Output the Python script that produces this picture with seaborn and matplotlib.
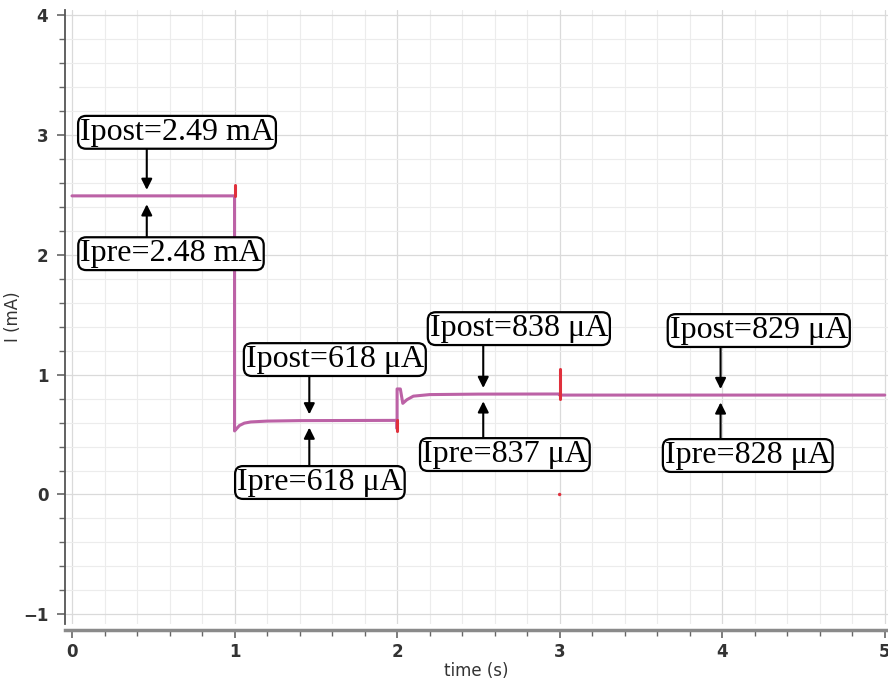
import matplotlib
matplotlib.use("Agg")
import matplotlib.pyplot as plt
from matplotlib.ticker import MultipleLocator
import numpy as np
import pandas as pd
import seaborn as sns

# Simulated current trace (time in s, current in mA)
time_main = [0.0, 1.0, 1.0, 1.01, 1.03, 1.06, 1.10, 1.20, 1.40, 1.70, 2.0,
             2.0, 2.0, 2.02, 2.035, 2.06, 2.10, 2.20, 2.50, 3.0, 3.0, 5.0]
current_main = [2.49, 2.49, 0.53, 0.545, 0.575, 0.595, 0.605, 0.612, 0.616, 0.617, 0.618,
                0.55, 0.88, 0.88, 0.76, 0.79, 0.82, 0.833, 0.837, 0.838, 0.829, 0.829]

# Switching glitches at the step instants
spike_time = [1.0, 2.0, 3.0]
spike_low = [2.49, 0.53, 0.80]
spike_high = [2.58, 0.62, 1.05]
glitch_time = [3.0]
glitch_current = [0.0]

# Measurement markers: position, value shown and label text
probe_time = [0.46, 1.46, 2.53, 3.99]
post_value = [2.49, 0.618, 0.838, 0.829]
pre_value = [2.48, 0.618, 0.837, 0.828]
post_label = ["Ipost=2.49 mA", "Ipost=618 μA", "Ipost=838 μA", "Ipost=829 μA"]
pre_label = ["Ipre=2.48 mA", "Ipre=618 μA", "Ipre=837 μA", "Ipre=828 μA"]
post_box = [(0.646, 3.02), (1.617, 1.125), (2.749, 1.383), (4.225, 1.367)]
pre_box = [(0.609, 2.008), (1.525, 0.10), (2.663, 0.333), (4.157, 0.325)]

sns.set_theme(style="white")
fig = plt.figure(figsize=(8.88, 6.84), dpi=100)
ax = fig.add_axes([0.0732, 0.0877, 0.9268, 0.8977])

trace = pd.DataFrame({"time": time_main, "I": current_main})
sns.lineplot(data=trace, x="time", y="I", sort=False, estimator=None,
             color="#bc62a6", lw=2.2, ax=ax)

spikes = pd.DataFrame({
    "time": [t for t in spike_time for _ in range(2)],
    "I": [v for pair in zip(spike_low, spike_high) for v in pair],
    "spike": [i for i in range(len(spike_time)) for _ in range(2)],
})
sns.lineplot(data=spikes, x="time", y="I", units="spike", estimator=None,
             sort=False, color="#e0303c", lw=2.2, ax=ax)
sns.scatterplot(x=glitch_time, y=glitch_current, color="#e0303c", s=6,
                edgecolor="none", ax=ax)

serif = dict(family=["Liberation Serif", "DejaVu Serif"], size=23, color="black")
box = dict(boxstyle="round,pad=0.06,rounding_size=0.25", fc="white", ec="black", lw=1.6)
arrow = dict(arrowstyle="-|>", color="black", lw=1.5, mutation_scale=16,
             shrinkA=0, shrinkB=0)

for t, pv, qv, pl, ql, pb, qb in zip(probe_time, post_value, pre_value,
                                    post_label, pre_label, post_box, pre_box):
    ax.annotate("", xy=(t, pv + 0.05), xytext=(t, pb[1] - 0.12), arrowprops=arrow)
    ax.annotate("", xy=(t, qv - 0.06), xytext=(t, qb[1] + 0.12), arrowprops=arrow)
    ax.text(pb[0], pb[1], pl, ha="center", va="center", bbox=box, **serif, zorder=5)
    ax.text(qb[0], qb[1], ql, ha="center", va="center", bbox=box, **serif, zorder=5)

ax.set_xlim(-0.043, 5.02)
ax.set_ylim(-1.08, 4.04)
ax.xaxis.set_major_locator(MultipleLocator(1))
ax.xaxis.set_minor_locator(MultipleLocator(0.2))
ax.yaxis.set_major_locator(MultipleLocator(1))
ax.yaxis.set_minor_locator(MultipleLocator(0.2))
ax.grid(which="major", color="#dadada", lw=0.9)
ax.grid(which="minor", color="#ececec", lw=0.8)
ax.set_axisbelow(True)

for side in ("top", "right"):
    ax.spines[side].set_visible(False)
ax.spines["left"].set_color("#555555")
ax.spines["left"].set_linewidth(1.3)
ax.spines["bottom"].set_position(("outward", 4))
ax.spines["bottom"].set_color("#8a8a8a")
ax.spines["bottom"].set_linewidth(2.5)

ax.tick_params(axis="both", which="both", direction="out", color="#666666",
               bottom=True, left=True)
ax.tick_params(axis="both", which="major", length=6, width=1.2)
ax.tick_params(axis="both", which="minor", length=4, width=1.0)
ax.tick_params(axis="both", labelsize=12, labelcolor="#333333", pad=6)
ax.tick_params(axis="x", pad=4)
for lab in ax.get_xticklabels() + ax.get_yticklabels():
    lab.set_fontweight("bold")

ax.set_xlabel("time (s)", fontsize=12, color="#333333")
ax.set_ylabel("I (mA)", fontsize=12, color="#333333")
ax.xaxis.set_label_coords(0.5, -0.062)
ax.yaxis.set_label_coords(-0.052, 0.5)

fig.savefig("out.png", dpi=100)
